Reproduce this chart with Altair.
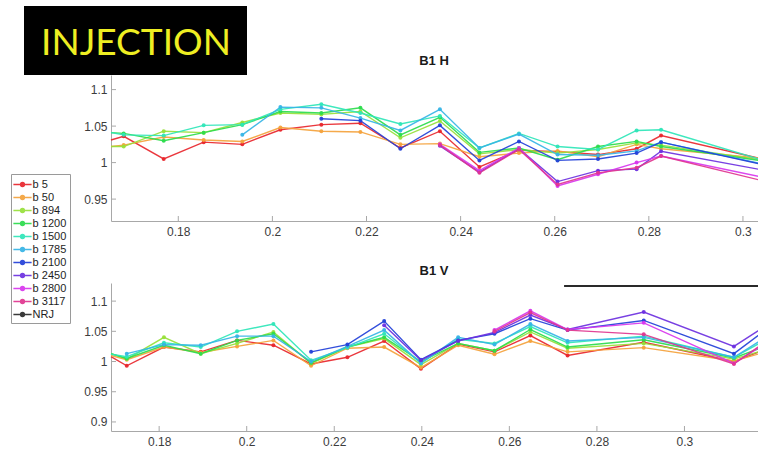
import altair as alt
import pandas as pd

# ---- series names and colours ------------------------------------------------
SERIES = ["b 5", "b 50", "b 894", "b 1200", "b 1500",
          "b 1785", "b 2100", "b 2450", "b 2800", "b 3117"]
COLORS = ["#e8262c", "#f4a23c", "#97e03a", "#2bdc4c", "#2fe6b8",
          "#36b4e6", "#2240d8", "#6c30e0", "#d836ee", "#e0358f"]
NRJ_COLOR = "#2a2a2a"

# ---- B1 H (horizontal plane) ---------------------------------------------------
X_H = [0.1657, 0.1684, 0.1769, 0.1854, 0.1936, 0.2017, 0.2104, 0.2187, 0.2272,
       0.2356, 0.2440, 0.2524, 0.2606, 0.2692, 0.2774, 0.2826, 0.3100]
H_B5 = [1.031, 1.036, 1.005, 1.028, 1.025, 1.045, 1.052, 1.054, 1.020,
        1.043, 0.994, 1.017, 1.015, 1.011, 1.019, 1.037, 0.996]
H_B50 = [1.022, 1.024, 1.035, 1.031, 1.029, 1.048, 1.043, 1.042, 1.025,
         1.026, 1.008, 1.013, 1.016, 1.008, 1.025, 1.019, 1.002]
H_B894 = [1.022, 1.022, 1.043, 1.041, 1.055, 1.068, 1.066, 1.070, 1.034,
          1.057, 1.012, 1.018, 1.013, 1.018, 1.027, 1.024, 0.998]
H_B1200 = [1.041, 1.040, 1.030, 1.041, 1.052, 1.070, 1.068, 1.075, 1.038,
           1.062, 1.014, 1.020, 1.004, 1.022, 1.029, 1.022, 0.997]
H_B1500 = [1.041, 1.038, 1.037, 1.051, 1.052, 1.073, 1.080, 1.068, 1.053,
           1.064, 1.020, 1.040, 1.022, 1.018, 1.044, 1.045, 0.992]
H_B1785 = [None, None, None, None, 1.038, 1.076, 1.075, 1.061, 1.044,
           1.073, 1.020, 1.039, 1.011, 1.010, 1.016, 1.028, 0.990]
H_B2100 = [None, None, None, None, None, None, 1.060, 1.0575, 1.019,
           1.051, 1.003, 1.029, 1.003, 1.005, 1.013, 1.028, 0.989]
H_B2450 = [None, None, None, None, None, None, None, None, None,
           1.023, 0.987, 1.019, 0.974, 0.989, 0.991, 1.0155, 0.983]
H_B2800 = [None, None, None, None, None, None, None, None, None,
           1.025, 0.989, 1.020, 0.968, 0.984, 1.000, 1.009, 0.972]
H_B3117 = [None, None, None, None, None, None, None, None, None,
           1.024, 0.986, 1.018, 0.970, 0.986, 0.993, 1.009, 0.966]

# ---- B1 V (vertical plane) -----------------------------------------------------
X_V = [0.1690, 0.1726, 0.1811, 0.1895, 0.1978, 0.2061, 0.2147, 0.2230, 0.2314,
       0.2398, 0.2483, 0.2566, 0.2648, 0.2733, 0.2907, 0.3113, 0.3196]
V_B5 = [1.008, 0.993, 1.024, 1.016, 1.035, 1.027, 0.996, 1.007, 1.034,
        0.988, 1.029, 1.016, 1.043, 1.010, 1.032, 1.000, 1.023]
V_B50 = [1.010, 1.003, 1.024, 1.015, 1.025, 1.035, 0.993, 1.022, 1.024,
         0.990, 1.027, 1.012, 1.034, 1.016, 1.023, 1.001, 1.018]
V_B894 = [1.013, 1.004, 1.040, 1.013, 1.030, 1.049, 0.997, 1.024, 1.038,
          0.995, 1.030, 1.018, 1.049, 1.022, 1.030, 1.004, 1.022]
V_B1200 = [1.013, 1.005, 1.027, 1.013, 1.035, 1.046, 0.998, 1.024, 1.040,
           1.000, 1.030, 1.018, 1.053, 1.024, 1.036, 1.006, 1.028]
V_B1500 = [1.012, 1.008, 1.031, 1.024, 1.050, 1.062, 1.002, 1.023, 1.046,
           0.998, 1.037, 1.030, 1.058, 1.031, 1.042, 1.007, 1.040]
V_B1785 = [None, 1.013, 1.028, 1.027, 1.042, 1.042, 1.000, 1.025, 1.052,
           0.997, 1.040, 1.028, 1.062, 1.034, 1.040, 1.007, 1.045]
V_B2100 = [None, None, None, None, None, None, 1.016, 1.028, 1.067,
           1.003, 1.035, 1.046, 1.071, 1.052, 1.068, 1.013, 1.058]
V_B2450 = [None, None, None, None, None, None, None, None, 1.060,
           1.002, 1.034, 1.048, 1.077, 1.053, 1.082, 1.025, 1.064]
V_B2800 = [None, None, None, None, None, None, None, None, None,
           None, None, 1.052, 1.084, 1.053, 1.064, 0.997, 1.035]
V_B3117 = [None, None, None, None, None, None, None, None, None,
           None, None, 1.050, 1.081, 1.052, 1.045, 0.996, 1.038]

NRJ_X = [0.2725, 0.3168]
NRJ_Y = [1.125, 1.125]

# axis settings
H_XDOM, H_YDOM = [0.1657, 0.3032], [0.92, 1.12]
V_XDOM, V_YDOM = [0.169, 0.3168], [0.885, 1.13]
H_XTICKS = [0.18, 0.2, 0.22, 0.24, 0.26, 0.28, 0.3]
V_XTICKS = [0.18, 0.2, 0.22, 0.24, 0.26, 0.28, 0.3]
H_YTICKS = [0.95, 1, 1.05, 1.1]
V_YTICKS = [0.9, 0.95, 1, 1.05, 1.1]

# ---- layout (pixels) -----------------------------------------------------------
CW, CH = 758, 449
PLOT_L, PLOT_R = 111, 758
TOP_PIX = (221, 75)
BOT_PIX = (431, 283)
AXIS_GREY = "#a8a8a8"
LABEL_GREY = "#3c3c3c"
FONT = "Liberation Sans"


def long_table(xs, columns):
    rows = []
    for name, vals in zip(SERIES, columns):
        for i, (x, y) in enumerate(zip(xs, vals)):
            if y is None:
                continue
            rows.append({"series": name, "x": x, "y": y, "dot": i > 0})
    return pd.DataFrame(rows)


color = alt.Color(
    "series:N",
    scale=alt.Scale(domain=SERIES + ["NRJ"], range=COLORS + [NRJ_COLOR]),
    legend=alt.Legend(
        title=None, orient="none", legendX=11, legendY=174,
        strokeColor="#9a9a9a", fillColor="white", padding=3,
        symbolType="M-1.35,0H1.35M-0.28,0a0.28,0.28 0 1,0 0.56,0a0.28,0.28 0 1,0 -0.56,0",
        symbolSize=182, symbolStrokeWidth=1.5, symbolOffset=1,
        labelFont=FONT, labelFontSize=11, labelColor="#1e1e1e",
        labelOffset=2.6, rowPadding=0,
    ),
)


def panel(df, xdom, ydom, pix, xticks, yticks, extra=None):
    xs = alt.Scale(domain=xdom, range=[PLOT_L, PLOT_R], nice=False, zero=False)
    ys = alt.Scale(domain=ydom, range=[pix[0], pix[1]], nice=False, zero=False)
    common = dict(grid=False, ticks=False, tickSize=0, title=None, format="~g",
                  domainColor=AXIS_GREY, labelColor=LABEL_GREY,
                  labelFont=FONT, labelFontSize=12)
    xaxis = alt.Axis(orient="bottom", offset=-(CH - pix[0]), values=xticks,
                     labelPadding=5, **common)
    yaxis = alt.Axis(orient="left", offset=-PLOT_L, values=yticks,
                     labelPadding=4, **common)
    X = alt.X("x:Q", scale=xs, axis=xaxis)
    Y = alt.Y("y:Q", scale=ys, axis=yaxis)

    base = alt.Chart(df)
    lines = base.mark_line(strokeWidth=1.4, opacity=0.92).encode(
        x=X, y=Y, color=color)
    dots = base.transform_filter("datum.dot").mark_circle(size=16, opacity=0.95).encode(
        x=X, y=Y, color=color)

    # short inward-pointing tick marks
    xt = alt.Chart(pd.DataFrame({"x": xticks})).mark_rule(
        color=AXIS_GREY, strokeWidth=1).encode(
        x=X, y=alt.value(pix[0]), y2=alt.value(pix[0] - 5))
    yt = alt.Chart(pd.DataFrame({"y": yticks})).mark_rule(
        color=AXIS_GREY, strokeWidth=1).encode(
        y=Y, x=alt.value(PLOT_L), x2=alt.value(PLOT_L + 5))

    layers = [xt, yt, lines, dots]
    if extra is not None:
        layers.append(extra(X, Y))
    return alt.layer(*layers)


df_h = long_table(X_H, [H_B5, H_B50, H_B894, H_B1200, H_B1500,
                        H_B1785, H_B2100, H_B2450, H_B2800, H_B3117])
df_v = long_table(X_V, [V_B5, V_B50, V_B894, V_B1200, V_B1500,
                        V_B1785, V_B2100, V_B2450, V_B2800, V_B3117])
df_nrj = pd.DataFrame({"series": "NRJ", "x": NRJ_X, "y": NRJ_Y})


def nrj_line(X, Y):
    return alt.Chart(df_nrj).mark_line(strokeWidth=2).encode(x=X, y=Y, color=color)


top = panel(df_h, H_XDOM, H_YDOM, TOP_PIX, H_XTICKS, H_YTICKS)
bottom = panel(df_v, V_XDOM, V_YDOM, BOT_PIX, V_XTICKS, V_YTICKS, extra=nrj_line)


def label(text, x, y, **kw):
    return alt.Chart(pd.DataFrame({"t": [text]})).mark_text(**kw).encode(
        x=alt.value(x), y=alt.value(y), text="t:N")


title_kw = dict(font=FONT, fontSize=13, fontWeight="bold", color="#1a1a1a",
                align="center", baseline="alphabetic")
title_h = label("B1 H", 434, 65, **title_kw)
title_v = label("B1 V", 434, 275, **title_kw)

banner_box = alt.Chart(pd.DataFrame({"t": [0]})).mark_rect(color="black").encode(
    x=alt.value(24), x2=alt.value(247), y=alt.value(6), y2=alt.value(75))
banner_text = label("INJECTION", 136, 55, font="Lato", fontSize=37,
                    color="#eeee22", align="center", baseline="alphabetic")

chart = alt.layer(top, bottom, title_h, title_v, banner_box, banner_text).resolve_scale(
    x="independent", y="independent", color="shared"
).properties(
    width=CW, height=CH, autosize=alt.AutoSizeParams(type="none"), padding=0,
    background="white"
).configure_view(strokeWidth=0)

chart.save("out.html", embed_options={"renderer": "svg", "actions": False})
